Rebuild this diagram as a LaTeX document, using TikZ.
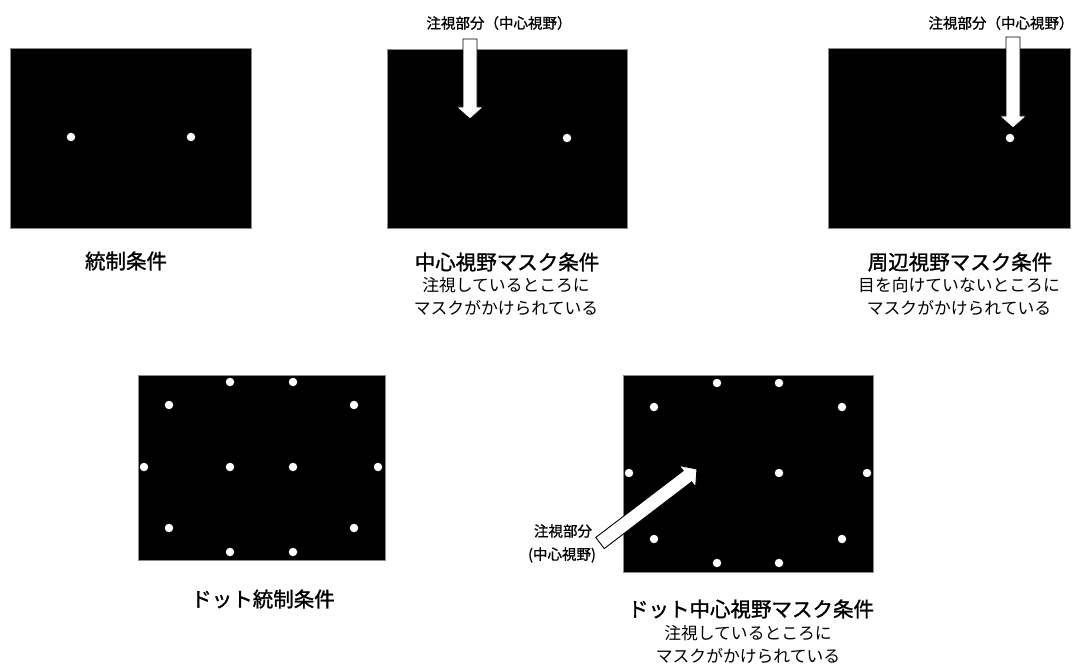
\documentclass[tikz,border=0pt]{standalone}
\usepackage{fontspec}
\setmainfont{Noto Sans CJK JP}
\newfontfamily\jpmed{Noto Sans CJK JP}[FakeBold=1.3]
\newfontfamily\jplbl{Noto Sans CJK JP}[FakeBold=1.0]
\usetikzlibrary{calc}
\newcommand\blockarrow[2]{%
  \path (#1); \pgfgetlastxy{\bax}{\bay}%
  \path (#2); \pgfgetlastxy{\bbx}{\bby}%
  \pgfmathsetmacro\bang{atan2(\bby-\bay,\bbx-\bax)}%
  \pgfmathsetmacro\blen{veclen(\bbx-\bax,\bby-\bay)}%
  \begin{scope}[shift={(#1)}, rotate=\bang]
    \draw[arrowbox] (0,-7) -- (\blen-12,-7) -- (\blen-12,-13.5) -- (\blen,0)
      -- (\blen-12,13.5) -- (\blen-12,7) -- (0,7) -- cycle;
  \end{scope}}
\begin{document}
\begin{tikzpicture}[x=1pt,y=-1pt,
  screen/.style={fill=black, draw=black!45, line width=0.8pt},
  dot/.style={circle, fill=white, draw=none, inner sep=0pt, minimum size=8.5pt},
  arrowbox/.style={fill=white, draw=black, line width=0.9pt, line join=miter},
  ttl/.style={font=\jpmed\fontsize{20.5}{22}\selectfont, inner sep=0pt},
  sub/.style={font=\fontsize{16.8}{18}\selectfont, inner sep=0pt},
  lbl/.style={font=\jplbl\fontsize{14.5}{16}\selectfont, inner sep=0pt}]
\useasboundingbox[fill=white] (0,0) rectangle (1079,668);

% panel 1
\path[screen] (10,48) rectangle (251,228);
\node[dot] (p1a) at (71,137) {};
\node[dot] (p1b) at (191,137) {};
\node[ttl] (t1) at (126,261) {統制条件};

% panel 2
\path[screen] (387,49) rectangle (627,228);
\node[dot] (p2a) at (567,138) {};
\node[lbl] (l2) at (499,23) {注視部分（中心視野）};
\coordinate (a2t) at (470,39);
\coordinate (a2h) at (470,119);
\blockarrow{a2t}{a2h}
\node[ttl] (t2) at (507,262) {中心視野マスク条件};
\node[sub] (s2a) at (506,285) {注視しているところに};
\node[sub] (s2b) at (506,308) {マスクがかけられている};

% panel 3
\path[screen] (828,48) rectangle (1070,228);
\node[dot] (p3a) at (1010,138) {};
\node[lbl] (l3) at (1001,23) {注視部分（中心視野）};
\coordinate (a3t) at (1013,37);
\coordinate (a3h) at (1013,128);
\blockarrow{a3t}{a3h}
\node[ttl] (t3) at (960,262) {周辺視野マスク条件};
\node[sub] (s3a) at (959,285) {目を向けていないところに};
\node[sub] (s3b) at (959,308) {マスクがかけられている};

% panel 4
\path[screen] (138,375) rectangle (385,560);
\foreach \x/\y [count=\i] in {230/382,293/382,169/405,354/405,144/467,230/467,293/467,378/467,169/528,354/528,230/552,293/552}
  \node[dot] (p4d\i) at (\x,\y) {};
\node[ttl] (t4) at (263,599) {ドット統制条件};

% panel 5
\path[screen] (623,375) rectangle (873,572);
\foreach \x/\y [count=\i] in {717/383,779/383,654/407,842/407,629/473,779/473,867/473,654/539,842/539,717/563,779/563}
  \node[dot] (p5d\i) at (\x,\y) {};
\node[lbl] (l5a) at (563,531) {注視部分};
\node[lbl] (l5b) at (562,555) {(中心視野)};
\coordinate (a5t) at (600,543);
\coordinate (a5h) at (697,469);
\blockarrow{a5t}{a5h}
\node[ttl] (t5) at (751,609) {ドット中心視野マスク条件};
\node[sub] (s5a) at (748,633) {注視しているところに};
\node[sub] (s5b) at (748,656) {マスクがかけられている};
\end{tikzpicture}
\end{document}
